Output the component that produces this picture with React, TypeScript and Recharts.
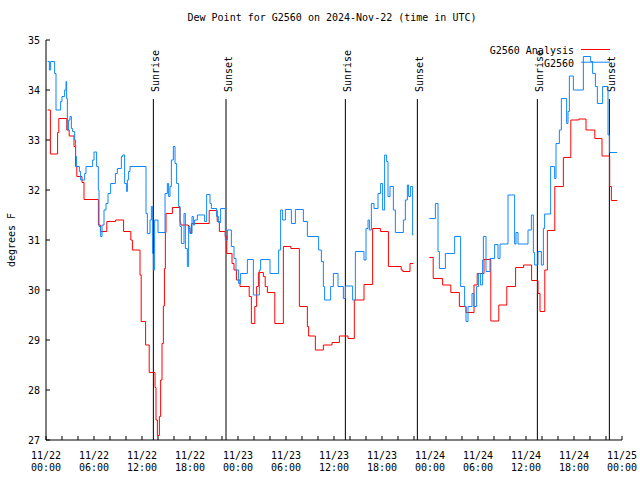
import { LineChart, Line, XAxis, YAxis, ReferenceLine, Legend } from "recharts";

const FONT = "'DejaVu Sans Mono', monospace";
const RED = "#ff0000";
const BLUE = "#0f86ff";

const seriesNames = ["G2560 Analysis", "G2560"];
const seriesColors = [RED, BLUE];

// hours since 2024-11-22 00:00 UTC, values in degrees F (stepped)
const redHours = [
  0.2, 0.55, 1.45, 1.6, 2.6, 2.9, 3.5, 3.7, 3.85, 4.5, 4.75, 6.55, 6.8, 7.6, 8.7, 9.7,
  10.6, 10.8, 11.75, 11.9, 12.45, 12.9, 13.63, 13.75, 13.92, 14.17, 14.33, 14.5, 14.67,
  14.8, 14.92, 15.0, 15.8, 16.75, 16.85, 17.8, 18.0, 18.2, 20.4, 21.4, 21.67, 22.4, 22.6,
  23.25, 23.5, 23.8, 24.25, 25.4, 25.67, 26.1, 26.33, 26.55, 27.17, 27.4, 27.67, 28.6,
  29.67, 30.6, 31.67, 32.67, 32.83, 33.67, 34.67, 35.75, 36.67, 37.75, 38.54, 39.75,
  40.83, 41.8, 42.8, 44.4, 44.6, 45.5, 45.92, 46.0, 47.92, 48.4, 49.58, 50.6, 51.67,
  52.5, 53.5, 53.9, 54.75, 55.6, 56.6, 57.6, 58.7, 59.7, 60.7, 61.5, 61.75, 62.35, 62.67,
  63.6, 64.67, 65.6, 66.6, 67.5, 68.6, 69.5, 70.46, 70.67, 71.4,
];
const redValues = [
  33.6, 32.72, 33.15, 33.43, 33.2, 33.08, 32.87, 32.47, 32.27, 32.15, 31.81, 31.3, 31.17,
  31.37, 31.4, 31.17, 31.0, 30.8, 30.3, 29.37, 28.9, 28.35, 28.05, 27.4, 27.09, 27.47,
  28.2, 28.93, 29.68, 30.43, 31.15, 31.53, 31.65, 31.35, 31.3, 31.23, 31.15, 31.33, 31.59,
  31.37, 31.17, 31.07, 30.73, 30.53, 30.4, 30.2, 30.07, 29.87, 29.33, 29.67, 30.07, 30.35,
  30.27, 30.07, 29.95, 29.33, 30.87, 30.83, 29.67, 29.27, 29.08, 28.8, 28.9, 28.95, 29.08,
  29.03, 29.8, 30.11, 31.23, 31.17, 30.47, 30.4, 30.37, 30.53, 30.53, null, 30.65, 30.23,
  30.1, 29.95, 29.67, 29.55, 30.1, 30.33, 30.61, 29.38, 29.7, 30.07, 30.45, 30.5, 30.19,
  29.93, 29.57, 30.4, 31.19, 32.07, 32.65, 33.4, 33.42, 33.2, 33.03, 32.68, 32.07, 31.79,
  31.79,
];

const blueHours = [
  0.2, 0.42, 0.58, 1.08, 1.25, 1.83, 2.0, 2.33, 2.5, 2.58, 2.67, 2.83, 3.0, 3.17, 3.33,
  3.58, 3.7, 3.83, 4.17, 4.33, 4.83, 5.0, 5.83, 6.0, 6.33, 6.54, 6.63, 6.83, 7.0, 7.25,
  7.5, 7.75, 8.08, 8.67, 8.92, 9.42, 9.58, 9.83, 10.08, 10.17, 10.33, 10.5, 12.5, 12.67,
  13.0, 13.17, 13.33, 13.42, 13.58, 14.0, 14.88, 15.17, 15.33, 15.5, 15.67, 15.92, 16.13,
  16.33, 16.58, 16.75, 16.92, 17.25, 17.42, 17.67, 17.83, 18.0, 18.25, 18.42, 18.58,
  18.92, 19.83, 20.08, 20.5, 20.67, 21.33, 21.58, 21.83, 22.42, 22.67, 23.17, 23.5, 23.75,
  24.08, 24.33, 25.17, 25.92, 26.67, 26.83, 28.0, 29.08, 29.33, 29.58, 29.92, 30.67,
  31.17, 32.17, 32.67, 34.08, 34.42, 34.67, 34.83, 35.58, 35.92, 36.5, 37.17, 37.42,
  38.33, 38.67, 39.75, 40.0, 40.25, 40.42, 40.67, 41.0, 41.5, 41.83, 42.08, 42.33, 42.58,
  42.75, 43.0, 43.42, 43.67, 44.67, 44.92, 45.17, 45.33, 45.58, 45.83, 45.92, 46.0,
  47.92, 48.67, 49.0, 49.17, 49.92, 51.08, 51.83, 52.33, 52.5, 52.75, 53.25, 53.5, 53.83,
  54.08, 54.33, 54.58, 54.67, 55.0, 55.5, 56.08, 56.5, 56.75, 57.75, 58.58, 58.75, 59.0,
  60.25, 60.67, 60.92, 61.08, 61.5, 61.92, 62.17, 62.33, 63.08, 63.58, 63.75, 64.17,
  64.42, 65.08, 65.25, 65.42, 65.92, 67.17, 68.08, 68.33, 68.67, 68.92, 69.58, 70.25,
  70.45, 71.4,
];
const blueValues = [
  34.57, 34.4, 34.57, 34.33, 33.6, 33.77, 33.87, 34.0, 34.17, 33.83, 33.2, 33.4, 33.47,
  33.23, 33.17, 33.0, 32.67, 32.47, 32.37, 32.2, 32.33, 32.47, 32.6, 32.76, 32.47, 32.0,
  31.27, 31.07, 31.3, 31.6, 31.73, 31.93, 32.13, 32.33, 32.43, 32.67, 32.7, 32.13, 31.97,
  32.2, 32.37, 32.47, 31.53, 31.13, 31.4, 31.67, 30.73, 30.4, 31.4, 31.15, 31.93, 32.13,
  31.87, 32.07, 32.6, 32.87, 32.53, 32.13, 31.67, 31.27, 30.93, 31.53, 30.83, 30.47,
  31.27, 31.13, 31.47, 31.3, 31.4, 31.5, 31.37, 31.91, 31.73, 31.63, 31.47, 31.35, 31.63,
  31.0, 31.2, 30.87, 30.63, 30.4, 30.13, 30.33, 30.61, 29.9, 30.4, 30.61, 30.33, 30.8,
  31.6, 31.4, 31.61, 31.33, 31.61, 31.37, 31.07, 30.8, 30.57, 30.07, 29.8, 30.07, 30.33,
  30.07, 29.83, 30.08, 29.8, 30.77, 30.6, 31.23, 31.4, 31.2, 31.73, 31.63, 31.93, 32.13,
  31.6, 32.7, 32.57, 31.87, 32.07, 31.6, 31.15, 31.4, 31.8, 32.1, 31.87, 32.07, 31.1,
  31.1, null, 31.43, 31.73, 30.77, 30.43, 30.73, 31.07, 30.07, 29.67, 29.37, 29.67, 29.93,
  29.67, 30.07, 30.33, 30.1, 30.6, 31.07, 30.37, 30.63, 30.91, 30.63, 30.92, 31.9, 30.92,
  31.15, 30.92, 31.2, 31.5, 30.75, 30.5, 30.77, 30.5, 31.23, 31.52, 32.47, 32.23, 32.93,
  33.2, 33.83, 33.33, 33.57, 34.28, 34.0, 34.67, 34.57, 34.33, 34.07, 33.73, 34.07, 33.1,
  32.75, 32.75,
];

const sunHours = [13.42, 22.5, 37.42, 46.42, 61.42, 70.42];
const sunLabels = ["Sunrise", "Sunset", "Sunrise", "Sunset", "Sunrise", "Sunset"];

const xTicks = Array.from({ length: 37 }, (_, i) => i * 2);
const yTicks = [27, 28, 29, 30, 31, 32, 33, 34, 35];

const redData = redHours.map((h, i) => ({ h, v: redValues[i] }));
const blueData = blueHours.map((h, i) => ({ h, v: blueValues[i] }));

const textProps = { fontFamily: FONT, fontSize: 10, fill: "#000" };

function BottomTick({ x, y, payload }: any) {
  const h = payload.value;
  const day = 22 + Math.floor(h / 24);
  const hh = String(h % 24).padStart(2, "0");
  return (
    <g>
      <line x1={x} x2={x} y1={y} y2={y - 4} stroke="#000" />
      {h % 6 === 0 && (
        <text x={x} y={y} textAnchor="middle" {...textProps}>
          <tspan x={x} dy={19}>{`11/${day}`}</tspan>
          <tspan x={x} dy={12}>{`${hh}:00`}</tspan>
        </text>
      )}
    </g>
  );
}

function TopTick({ x, y }: any) {
  return <line x1={x} x2={x} y1={y} y2={y + 4} stroke="#000" />;
}

function LeftTick({ x, y, payload }: any) {
  return (
    <g>
      <line x1={x} x2={x + 4} y1={y} y2={y} stroke="#000" />
      <text x={x - 6} y={y + 4} textAnchor="end" {...textProps}>
        {payload.value}
      </text>
    </g>
  );
}

function RightTick({ x, y }: any) {
  return <line x1={x} x2={x - 4} y1={y} y2={y} stroke="#000" />;
}

function SunLabel({ viewBox, text }: any) {
  const x = viewBox.x + 5.5;
  const y = viewBox.y - 7;
  return (
    <text x={x} y={y} transform={`rotate(-90 ${x} ${y})`} textAnchor="start" {...textProps}>
      {text}
    </text>
  );
}

function YTitle({ viewBox }: any) {
  const x = 11;
  const y = viewBox.y + viewBox.height / 2;
  return (
    <text x={x} y={y} dy={3.5} transform={`rotate(-90 ${x} ${y})`} textAnchor="middle" {...textProps}>
      degrees F
    </text>
  );
}

function LegendBox() {
  return (
    <svg width={170} height={30} style={{ display: "block" }}>
      {seriesNames.map((name, i) => (
        <g key={name}>
          <text x={114} y={14 + 12.7 * i} textAnchor="end" {...textProps}>
            {name}
          </text>
          <line x1={121} x2={150} y1={9.5 + 12.7 * i} y2={9.5 + 12.7 * i} stroke={seriesColors[i]} />
        </g>
      ))}
    </svg>
  );
}

export default function App() {
  return (
    <div style={{ position: "absolute", left: 0, top: 0, width: 640, height: 480, background: "#fff" }}>
      <svg width={640} height={30} style={{ position: "absolute", left: 0, top: 0 }}>
        <text x={332} y={21} textAnchor="middle" {...textProps}>
          Dew Point for G2560 on 2024-Nov-22 (time in UTC)
        </text>
      </svg>
      <LineChart
        width={640}
        height={480}
        margin={{ top: 40, right: 18, bottom: 0, left: 6 }}
      >
        <XAxis
          dataKey="h"
          type="number"
          domain={[0, 72]}
          ticks={xTicks}
          interval={0}
          height={40}
          tickSize={0}
          tickMargin={0}
          tickLine={false}
          tick={<BottomTick />}
          axisLine={{ stroke: "#000" }}
          allowDataOverflow
        />
        <XAxis
          xAxisId="top"
          orientation="top"
          dataKey="h"
          type="number"
          domain={[0, 72]}
          ticks={xTicks}
          interval={0}
          height={0}
          tickSize={0}
          tickMargin={0}
          tickLine={false}
          tick={<TopTick />}
          axisLine={{ stroke: "#000" }}
          allowDataOverflow
        />
        <YAxis
          type="number"
          domain={[27, 35]}
          ticks={yTicks}
          interval={0}
          width={40}
          tickSize={0}
          tickMargin={0}
          tickLine={false}
          tick={<LeftTick />}
          axisLine={{ stroke: "#000" }}
          label={<YTitle />}
          allowDataOverflow
        />
        <YAxis
          yAxisId="right"
          orientation="right"
          type="number"
          domain={[27, 35]}
          ticks={yTicks}
          interval={0}
          width={0}
          tickSize={0}
          tickMargin={0}
          tickLine={false}
          tick={<RightTick />}
          axisLine={{ stroke: "#000" }}
          allowDataOverflow
        />
        {sunHours.map((h, i) => (
          <ReferenceLine
            key={`sun-${i}`}
            segment={[
              { x: h, y: 33.82 },
              { x: h, y: 27 },
            ]}
            stroke="#000"
            strokeWidth={1}
            label={<SunLabel text={sunLabels[i]} />}
          />
        ))}
        <Line
          data={redData}
          dataKey="v"
          name={seriesNames[0]}
          type="stepAfter"
          stroke={RED}
          strokeWidth={1}
          dot={false}
          activeDot={false}
          isAnimationActive={false}
        />
        <Line
          data={blueData}
          dataKey="v"
          name={seriesNames[1]}
          type="stepAfter"
          stroke={BLUE}
          strokeWidth={1}
          dot={false}
          activeDot={false}
          isAnimationActive={false}
        />
        <Legend
          layout="horizontal"
          verticalAlign="middle"
          align="center"
          content={<LegendBox />}
          wrapperStyle={{ top: 40, left: 460, width: 170, height: 30 }}
        />
      </LineChart>
    </div>
  );
}
